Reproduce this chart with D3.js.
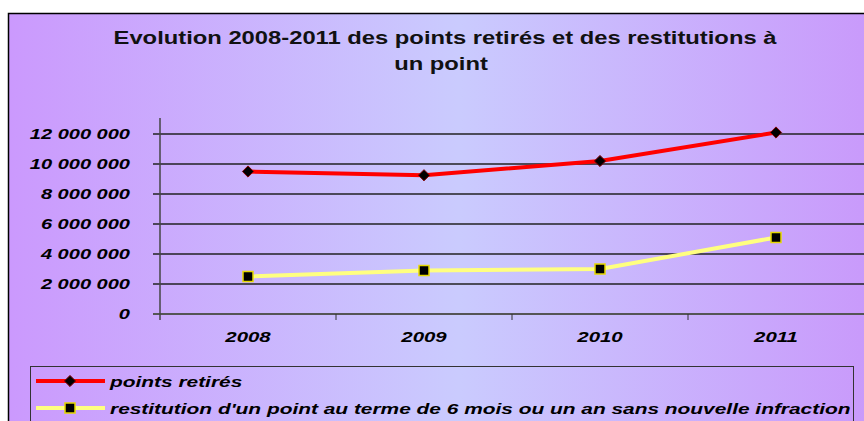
<!DOCTYPE html>
<html lang="fr">
<head>
<meta charset="utf-8">
<title>Evolution 2008-2011</title>
<script src="https://cdn.jsdelivr.net/npm/d3@7"></script>
<style>
  html, body { margin: 0; padding: 0; background: #fff; }
  svg { display: block; font-family: "Liberation Sans", Arial, sans-serif; }
</style>
</head>
<body>
<svg></svg>
<script>
var years = ["2008", "2009", "2010", "2011"];
var pointsRetires = [9500000, 9250000, 10200000, 12100000];
var restitutions = [2500000, 2900000, 3000000, 5100000];
var yTicks = [0, 2000000, 4000000, 6000000, 8000000, 10000000, 12000000];
var seriesNames = ["points retirés", "restitution d'un point au terme de 6 mois ou un an sans nouvelle infraction"];

var width = 864, height = 421;
var svg = d3.select("svg").attr("width", width).attr("height", height);

// the original picture is stretched sideways, so widen the text to match
function stretch(sel, k) {
  sel.each(function() {
    var w = this.getComputedTextLength();
    d3.select(this).attr("textLength", w * k).attr("lengthAdjust", "spacingAndGlyphs");
  });
}

// background gradient
var grad = svg.append("defs").append("linearGradient").attr("id", "bg")
  .attr("x1", "0%").attr("x2", "100%").attr("y1", "0%").attr("y2", "0%");
grad.append("stop").attr("offset", "0%").attr("stop-color", "#cb99fd");
grad.append("stop").attr("offset", "50%").attr("stop-color", "#cacbfe");
grad.append("stop").attr("offset", "100%").attr("stop-color", "#c995fb");

svg.append("rect").attr("x", 8.5).attr("y", 13.5).attr("width", 900).attr("height", 450)
  .attr("fill", "url(#bg)").attr("stroke", "#000").attr("stroke-width", 1.5);

// title
var title = svg.append("text").attr("text-anchor", "middle").attr("font-weight", "bold")
  .attr("font-size", 18).attr("fill", "#111");
title.append("tspan").attr("x", 445).attr("y", 44).text("Evolution 2008-2011 des points retirés et des restitutions à");
title.append("tspan").attr("x", 441).attr("y", 70).text("un point");
stretch(title.selectAll("tspan"), 1.32);

var x = d3.scaleBand().domain(years).range([160, 864]);
var y = d3.scaleLinear().domain([0, 12000000]).range([314, 134]);

var fmt = function(d) { return d3.format(",")(d).replace(/,/g, " "); };

// gridlines
svg.append("g").selectAll("line").data(yTicks).join("line")
  .attr("x1", 153).attr("x2", 864)
  .attr("y1", function(d) { return y(d); }).attr("y2", function(d) { return y(d); })
  .attr("stroke", function(d) { return d === 0 ? "#555" : "#222"; })
  .attr("stroke-width", function(d) { return d === 0 ? 2 : 1.6; });

// y axis
var yAxis = svg.append("g").attr("transform", "translate(160,0)")
  .call(d3.axisLeft(y).tickValues(yTicks).tickFormat(fmt).tickSize(0).tickPadding(30));
yAxis.select(".domain").remove();
svg.append("line").attr("x1", 160).attr("x2", 160).attr("y1", 118).attr("y2", 320)
  .attr("stroke", "#444").attr("stroke-width", 1.5);
yAxis.selectAll("text").attr("font-size", 14).attr("font-weight", "bold")
  .attr("font-style", "italic").attr("fill", "#000").attr("font-family", "Liberation Sans, Arial, sans-serif");
stretch(yAxis.selectAll("text"), 1.43);

// x axis
var xAxis = svg.append("g").attr("transform", "translate(0,314)")
  .call(d3.axisBottom(x).tickSize(0).tickPadding(17));
xAxis.select(".domain").remove();
xAxis.selectAll("text").attr("font-size", 15).attr("font-weight", "bold")
  .attr("font-style", "italic").attr("fill", "#000").attr("font-family", "Liberation Sans, Arial, sans-serif");
stretch(xAxis.selectAll("text"), 1.36);
svg.append("g").selectAll("line").data(years.slice(1)).join("line")
  .attr("x1", function(d) { return x(d); }).attr("x2", function(d) { return x(d); })
  .attr("y1", 314).attr("y2", 320).attr("stroke", "#333").attr("stroke-width", 1);

var cx = function(d, i) { return x(years[i]) + x.bandwidth() / 2; };
var line = d3.line().x(function(d, i) { return cx(d, i); }).y(function(d) { return y(d); });

// red series
svg.append("path").datum(pointsRetires).attr("d", line)
  .attr("fill", "none").attr("stroke", "#ff0000").attr("stroke-width", 4);
svg.append("g").selectAll("path").data(pointsRetires).join("path")
  .attr("d", d3.symbol().type(d3.symbolDiamond2).size(80))
  .attr("transform", function(d, i) { return "translate(" + cx(d, i) + "," + y(d) + ")"; })
  .attr("fill", "#000").attr("stroke", "#800000").attr("stroke-width", 1);

// yellow series
svg.append("path").datum(restitutions).attr("d", line)
  .attr("fill", "none").attr("stroke", "#ffff80").attr("stroke-width", 4);
svg.append("g").selectAll("rect").data(restitutions).join("rect")
  .attr("x", function(d, i) { return cx(d, i) - 5; }).attr("y", function(d) { return y(d) - 5; })
  .attr("width", 10).attr("height", 10)
  .attr("fill", "#000").attr("stroke", "#e6d800").attr("stroke-width", 1.5);

// legend
svg.append("rect").attr("x", 30.5).attr("y", 366.5).attr("width", 823).attr("height", 70)
  .attr("fill", "none").attr("stroke", "#333").attr("stroke-width", 1);
var lg = svg.append("g");
var ly = [381, 408];
lg.selectAll("line").data(seriesNames).join("line")
  .attr("x1", 36).attr("x2", 105)
  .attr("y1", function(d, i) { return ly[i]; }).attr("y2", function(d, i) { return ly[i]; })
  .attr("stroke", function(d, i) { return i === 0 ? "#ff0000" : "#ffff80"; })
  .attr("stroke-width", 4);
lg.append("path").attr("d", d3.symbol().type(d3.symbolDiamond2).size(80))
  .attr("transform", "translate(70," + ly[0] + ")")
  .attr("fill", "#000").attr("stroke", "#800000");
lg.append("rect").attr("x", 65).attr("y", ly[1] - 5).attr("width", 10).attr("height", 10)
  .attr("fill", "#000").attr("stroke", "#e6d800").attr("stroke-width", 1.5);
var lt = lg.selectAll("text").data(seriesNames).join("text")
  .attr("x", 110).attr("y", function(d, i) { return ly[i] + 6; })
  .attr("font-size", 14.5).attr("font-weight", "bold").attr("font-style", "italic")
  .attr("fill", "#000").text(function(d) { return d; });
stretch(lt, 1.44);
</script>
</body>
</html>
